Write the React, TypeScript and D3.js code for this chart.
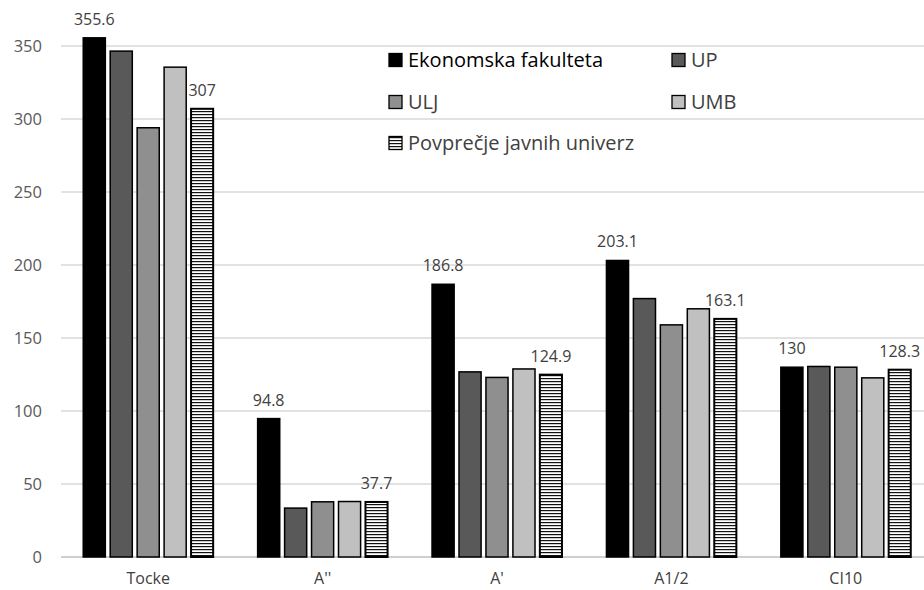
import React from "react";
import * as d3 from "d3";

const categories = ["Tocke", "A''", "A'", "A1/2", "CI10"];
const seriesNames = ["Ekonomska fakulteta", "UP", "ULJ", "UMB", "Povprečje javnih univerz"];
const ekonomska = [355.6, 94.8, 186.8, 203.1, 130];
const up = [346.5, 33.5, 126.8, 177, 130.5];
const ulj = [294, 37.8, 123, 159, 130];
const umb = [335.5, 38, 128.8, 170, 122.7];
const povprecje = [307, 37.7, 124.9, 163.1, 128.3];
const yTicks = [0, 50, 100, 150, 200, 250, 300, 350];
const labeledSeries = [0, 4];

const seriesValues = [ekonomska, up, ulj, umb, povprecje];
const fills = ["#000000", "#595959", "#8f8f8f", "#c0c0c0", "url(#hatch)"];

const W = 924;
const H = 590;
const FONT = "'Open Sans', 'Noto Sans', sans-serif";

export default function App() {
  const y = d3.scaleLinear().domain([0, 350]).range([557, 46]);
  const x = d3
    .scaleBand<string>()
    .domain(categories)
    .range([61, 933])
    .paddingInner(0.255)
    .paddingOuter(0.1275);
  const xi = d3
    .scaleBand<number>()
    .domain(d3.range(seriesNames.length))
    .range([0, x.bandwidth()])
    .paddingInner(0.18)
    .paddingOuter(0);

  const legendItems = [
    { i: 0, x: 389, y: 60 },
    { i: 1, x: 672, y: 60 },
    { i: 2, x: 389, y: 102 },
    { i: 3, x: 672, y: 102 },
    { i: 4, x: 389, y: 143 },
  ];

  return (
    <svg
      width={W}
      height={H}
      style={{ position: "absolute", left: 0, top: 0, background: "#fff" }}
      fontFamily={FONT}
    >
      <defs>
        <pattern id="hatch" width="4" height="3" patternUnits="userSpaceOnUse">
          <rect width="4" height="3" fill="#fff" />
          <rect y="0" width="4" height="1.2" fill="#111" />
        </pattern>
      </defs>
      <rect width={W} height={H} fill="#fff" />
      {yTicks.map((t) => (
        <g key={t}>
          <line
            x1={61}
            x2={W}
            y1={y(t)}
            y2={y(t)}
            stroke={t === 0 ? "#bfbfbf" : "#d9d9d9"}
            strokeWidth={1.3}
          />
          <text
            x={42}
            y={y(t)}
            dy="0.35em"
            textAnchor="end"
            fontSize={16.5}
            fill="#595959"
          >
            {t}
          </text>
        </g>
      ))}
      {categories.map((c, ci) => (
        <g key={c} transform={`translate(${x(c)},0)`}>
          {seriesValues.map((vals, si) => {
            const v = vals[ci];
            const bx = xi(si)!;
            const bw = xi.bandwidth();
            return (
              <g key={si}>
                <rect
                  x={bx}
                  y={y(v)}
                  width={bw}
                  height={y(0) - y(v)}
                  fill={fills[si]}
                  stroke="#000"
                  strokeWidth={si === 4 ? 2 : 1.5}
                />
                {labeledSeries.includes(si) && (
                  <text
                    x={bx + bw / 2}
                    y={y(v) - 13}
                    textAnchor="middle"
                    fontSize={16}
                    fill="#404040"
                  >
                    {v}
                  </text>
                )}
              </g>
            );
          })}
          <text
            x={x.bandwidth() / 2}
            y={584}
            textAnchor="middle"
            fontSize={16}
            fill="#404040"
          >
            {c}
          </text>
        </g>
      ))}
      {legendItems.map(({ i, x: lx, y: ly }) => (
        <g key={i} transform={`translate(${lx},${ly})`}>
          <rect
            x={0}
            y={-6.5}
            width={13}
            height={13}
            fill={i === 4 ? "url(#hatch)" : fills[i]}
            stroke="#000"
            strokeWidth={1.3}
          />
          <text x={19} y={0} dy="0.35em" fontSize={20} fill={i === 0 ? "#000" : "#404040"}>
            {seriesNames[i]}
          </text>
        </g>
      ))}
    </svg>
  );
}
